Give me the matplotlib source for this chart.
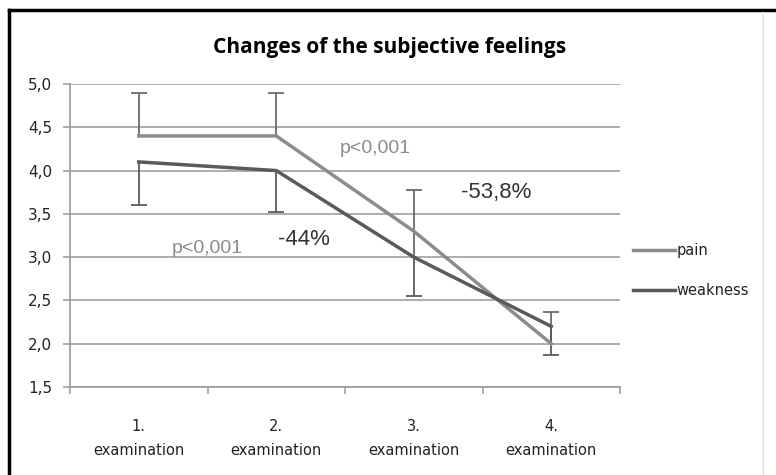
import numpy as np
import matplotlib
matplotlib.use("Agg")
import matplotlib.pyplot as plt
from matplotlib.lines import Line2D

# data
exams = ["1.\nexamination", "2.\nexamination", "3.\nexamination", "4.\nexamination"]
pain = [4.4, 4.4, 3.3, 2.0]
pain_up = [0.5, 0.5, 0.47, 0.37]
pain_low = [0.0, 0.0, 0.3, 0.0]
weakness = [4.1, 4.0, 3.0, 2.2]
weakness_low = [0.5, 0.48, 0.45, 0.33]

fig = plt.figure(figsize=(7.76, 4.75), dpi=100)
ax = fig.add_axes([70/776, 1-387/475, 550/776, 303/475])

x = np.arange(len(exams))

ax.plot(x, pain, color="#8c8c8c", lw=2.5, label="pain", zorder=3)
ax.plot(x, weakness, color="#5a5a5a", lw=2.5, label="weakness", zorder=3)

# error bars: pain upward, weakness downward, cap only at the outer end
p_top = np.array(pain) + np.array(pain_up)
p_bot = np.array(pain) - np.array(pain_low)
w_bot = np.array(weakness) - np.array(weakness_low)
ax.vlines(x, p_bot, p_top, color="#6a6a6a", lw=1.3, zorder=2)
ax.vlines(x, w_bot, weakness, color="#5a5a5a", lw=1.3, zorder=2)
ax.plot(x, p_top, ls="none", marker="_", ms=11, mew=1.3, color="#6a6a6a", zorder=2)
ax.plot(x, w_bot, ls="none", marker="_", ms=11, mew=1.3, color="#5a5a5a", zorder=2)

ax.set_xlim(-0.5, 3.5)
ax.set_ylim(1.5, 5.0)
yt = np.arange(1.5, 5.01, 0.5)
ax.set_yticks(yt)
ax.set_yticklabels([f"{v:.1f}".replace(".", ",") for v in yt],
                   fontsize=11, family="DejaVu Sans", color="#222222")
ax.yaxis.grid(True, color="#a0a0a0", lw=1.2)
ax.set_axisbelow(True)

ax.set_xticks(np.arange(-0.5, 3.6, 1))
ax.set_xticklabels([])
ax.set_xticks(x, minor=True)
ax.set_xticklabels(exams, minor=True, fontsize=10.5, family="DejaVu Sans",
                   linespacing=1.75, color="#222222")
ax.tick_params(axis="x", which="major", length=5, width=1.1, color="#999999", direction="out")
ax.tick_params(axis="x", which="minor", length=0, pad=23)
ax.tick_params(axis="y", length=5, width=1.1, color="#999999", pad=8)

for s in ["top", "right"]:
    ax.spines[s].set_visible(False)
for s in ["left", "bottom"]:
    ax.spines[s].set_color("#999999")
    ax.spines[s].set_linewidth(1.2)

# annotations
ax.text(1.72, 4.25, "p<0,001", color="#8c8c8c", fontsize=14,
        family="Liberation Sans", ha="center", va="center")
ax.text(2.6, 3.75, "-53,8%", color="#333333", fontsize=16,
        family="Liberation Sans", ha="center", va="center")
ax.text(1.2, 3.2, "-44%", color="#333333", fontsize=16,
        family="Liberation Sans", ha="center", va="center")
ax.text(0.5, 3.1, "p<0,001", color="#8c8c8c", fontsize=14,
        family="Liberation Sans", ha="center", va="center")

fig.text(390/776, 1-47/475, "Changes of the subjective feelings", fontsize=15,
         fontweight="bold", family="Open Sans", ha="center", va="center")

leg = ax.legend(loc="center left", bbox_to_anchor=(1.0, 0.385), frameon=False,
                prop={"family": "DejaVu Sans", "size": 10.5}, handlelength=2.9,
                handletextpad=0.1, labelspacing=1.7)
for t in leg.get_texts():
    t.set_color("#222222")

# chart frame
fig.add_artist(Line2D([9/776, 9/776], [0, 1-10/475], color="black", lw=2.5))
fig.add_artist(Line2D([9/776, 1], [1-10/475, 1-10/475], color="black", lw=2.5))
fig.add_artist(Line2D([763/776, 763/776], [0, 1-12/475], color="#e0e0e0", lw=1))

fig.savefig("out.png", dpi=100)
